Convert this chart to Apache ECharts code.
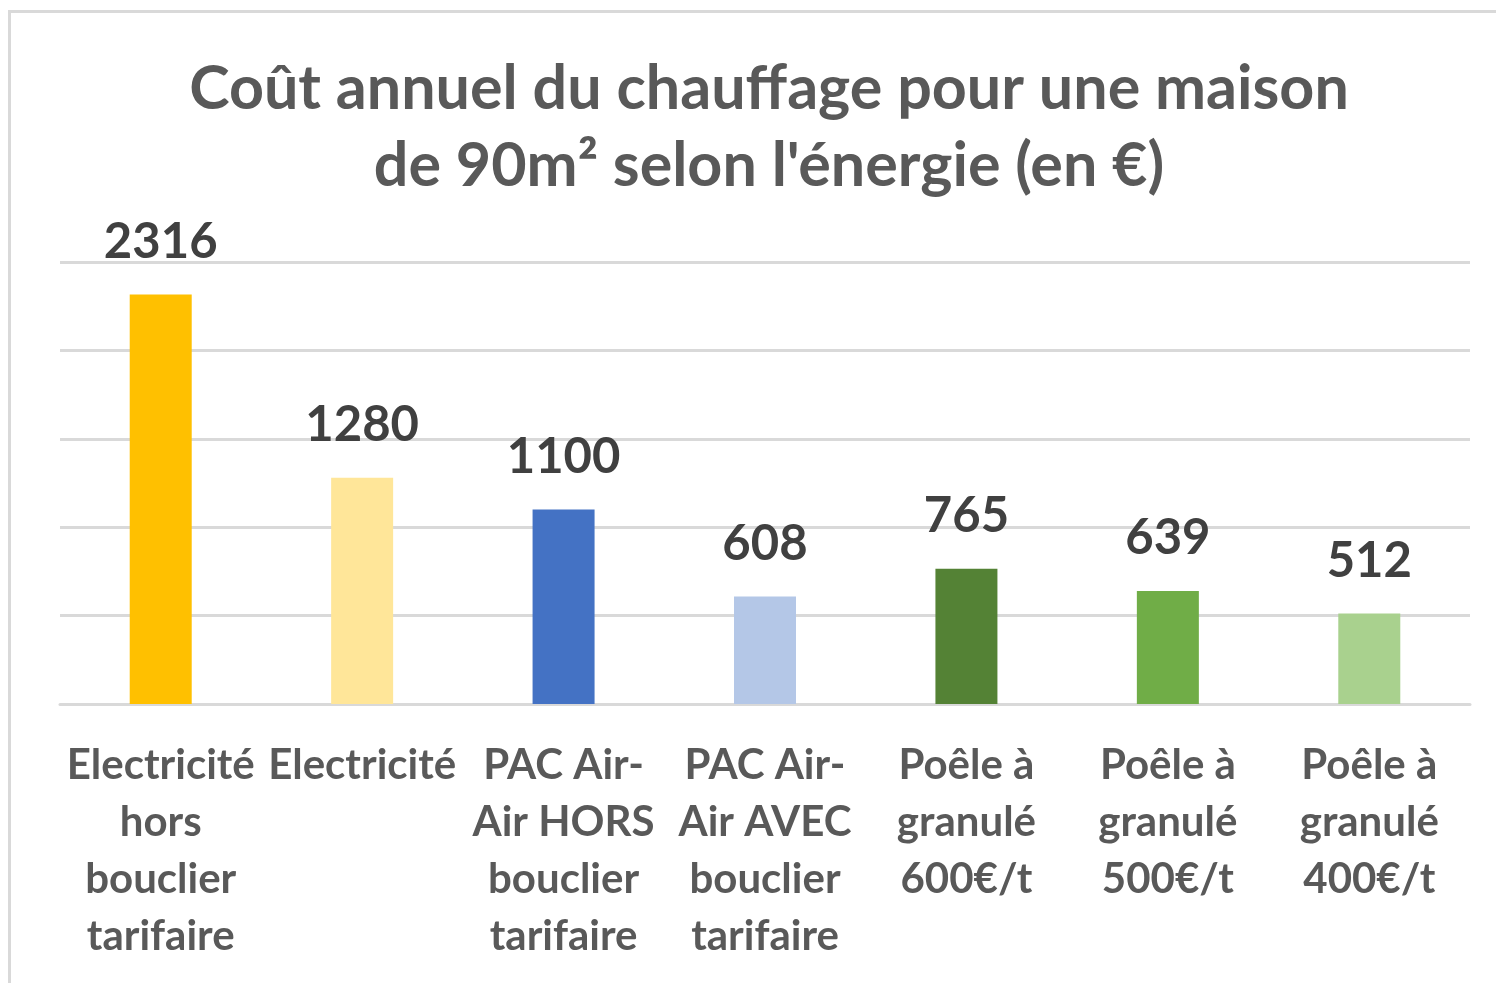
<!DOCTYPE html>
<html>
<head>
<meta charset="utf-8">
<script src="https://cdn.jsdelivr.net/npm/echarts@6/dist/echarts.min.js"></script>
<style>
  html, body { margin: 0; padding: 0; background: #fff; }
  #chart { width: 1496px; height: 983px; }
</style>
</head>
<body>
<div id="chart"></div>
<script>
// données
const categories = [
  'Electricité\nhors\nbouclier\ntarifaire',
  'Electricité',
  'PAC Air-\nAir HORS\nbouclier\ntarifaire',
  'PAC Air-\nAir AVEC\nbouclier\ntarifaire',
  'Poêle à\ngranulé\n600€/t',
  'Poêle à\ngranulé\n500€/t',
  'Poêle à\ngranulé\n400€/t'
]
const values = [2316, 1280, 1100, 608, 765, 639, 512]
const yTicks = [0, 500, 1000, 1500, 2000, 2500]

// couleurs des barres
const palette = ['#FFC000', '#FFE699', '#4472C4', '#B4C7E7', '#548235', '#70AD47', '#A9D18E']

const font = 'Lato, "Open Sans", sans-serif'

const chart = echarts.init(document.getElementById('chart'))

const option = {
  backgroundColor: '#fff',
  animation: false,
  title: {
    text: 'Coût annuel du chauffage pour une maison\nde 90m² selon l\'énergie (en €)',
    left: 764,
    top: 46,
    textAlign: 'center',
    textStyle: {
      fontFamily: font,
      fontWeight: 'bold',
      fontSize: 61,
      lineHeight: 77,
      color: '#595959'
    }
  },
  graphic: [{
    type: 'rect',
    shape: { x: 9.5, y: 11.5, width: 1600, height: 1100 },
    style: { fill: 'none', stroke: '#d9d9d9', lineWidth: 3 },
    silent: true
  }],
  grid: {
    left: 60,
    right: 26,
    top: 262,
    bottom: 279
  },
  xAxis: {
    type: 'category',
    data: categories,
    axisLine: { lineStyle: { color: '#d9d9d9', width: 3 } },
    axisTick: { show: false },
    axisLabel: {
      interval: 0,
      margin: 33,
      fontFamily: font,
      fontWeight: 'bold',
      fontSize: 42,
      lineHeight: 57,
      color: '#595959'
    }
  },
  yAxis: {
    type: 'value',
    min: yTicks[0],
    max: yTicks[yTicks.length - 1],
    interval: yTicks[1] - yTicks[0],
    axisLabel: { show: false },
    axisLine: { show: false },
    axisTick: { show: false },
    splitLine: { lineStyle: { color: '#d9d9d9', width: 3 } }
  },
  series: [{
    type: 'bar',
    barWidth: 62,
    data: values.map((v, i) => ({ value: v, itemStyle: { color: palette[i] } })),
    label: {
      show: true,
      position: 'top',
      distance: 28,
      fontFamily: font,
      fontWeight: 'bold',
      fontSize: 49,
      color: '#404040'
    }
  }]
}

chart.setOption(option)
</script>
</body>
</html>
